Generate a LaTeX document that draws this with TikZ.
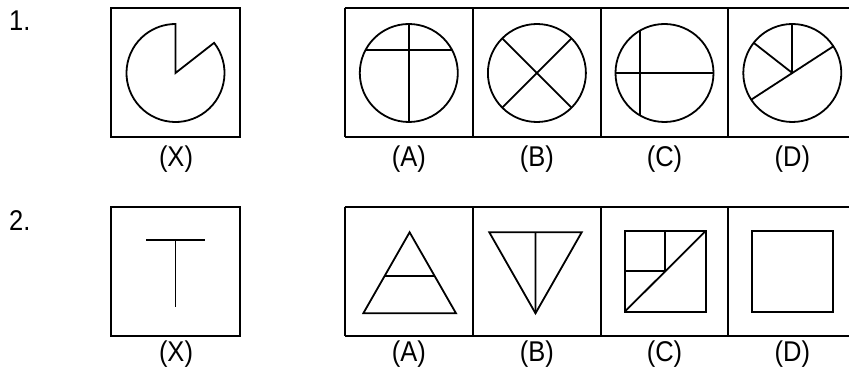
\documentclass[tikz,border=0pt]{standalone}
\usepackage{fontspec}
\usepackage{graphicx}
\setmainfont{Liberation Sans}
\usetikzlibrary{calc}
\newcommand{\tallt}[1]{\scalebox{1}[1.12]{#1}}
\begin{document}
\begin{tikzpicture}[x=1pt,y=1pt,
  fig/.style={line width=1.8pt, line join=miter},
  frame/.style={line width=2pt},
  lbl/.style={font=\fontsize{25.5}{30}\selectfont, inner sep=0pt},
  num/.style={font=\fontsize{25.5}{30}\selectfont, inner sep=0pt, anchor=west}]
\useasboundingbox (0,0) rectangle (849,-371);
\clip (0,0) rectangle (849,-371);
\fill[white] (0,0) rectangle (849,-371);

% ---------- Row 1 ----------
\node[num] (n1) at (9,-21) {\tallt{1.}};
\draw[frame] (111,-8.5) rectangle (240,-137);
\draw[frame] (344.7,-8.5) -- (860,-8.5);
\draw[frame] (344.7,-137) -- (860,-137);
\draw[frame] (344.7,-8.5) -- (344.7,-137);
\draw[frame] (473,-8.5) -- (473,-137);
\draw[frame] (600.7,-8.5) -- (600.7,-137);
\draw[frame] (728.3,-8.5) -- (728.3,-137);

\coordinate (cx1) at (175.5,-73);
\coordinate (ca1) at (408.8,-73);
\coordinate (cb1) at (536.9,-73);
\coordinate (cc1) at (664.5,-73);
\coordinate (cd1) at (792.3,-73);

% X: circle with sector cut out
\draw[fig] (cx1) -- ($(cx1)+(38:49pt)$) arc[start angle=38, end angle=-270, radius=49pt] -- cycle;

% A
\draw[fig] (ca1) circle[radius=49pt];
\draw[fig] ($(ca1)+(90:49pt)$) -- ($(ca1)+(-90:49pt)$);
\draw[fig] ($(ca1)+(-43.3,23)$) -- ($(ca1)+(43.3,23)$);

% B
\draw[fig] (cb1) circle[radius=49pt];
\draw[fig] ($(cb1)+(45:49pt)$) -- ($(cb1)+(225:49pt)$);
\draw[fig] ($(cb1)+(135:49pt)$) -- ($(cb1)+(315:49pt)$);

% C
\draw[fig] (cc1) circle[radius=49pt];
\draw[fig] ($(cc1)+(180:49pt)$) -- ($(cc1)+(0:49pt)$);
\draw[fig] ($(cc1)+(-24.5,42.4)$) -- ($(cc1)+(-24.5,-42.4)$);

% D
\draw[fig] (cd1) circle[radius=49pt];
\draw[fig] ($(cd1)+(213:49pt)$) -- ($(cd1)+(33:49pt)$);
\draw[fig] (cd1) -- ($(cd1)+(90:49pt)$);
\draw[fig] (cd1) -- ($(cd1)+(142:49pt)$);

\node[lbl] (lx1) at (176,-159) {\tallt{(X)}};
\node[lbl] (la1) at (408.8,-159) {\tallt{(A)}};
\node[lbl] (lb1) at (536.9,-159) {\tallt{(B)}};
\node[lbl] (lc1) at (664.5,-159) {\tallt{(C)}};
\node[lbl] (ld1) at (792.3,-159) {\tallt{(D)}};

% ---------- Row 2 ----------
\node[num] (n2) at (9,-221) {\tallt{2.}};
\draw[frame] (111,-207.3) rectangle (240,-336);
\draw[frame] (344.7,-207.3) -- (860,-207.3);
\draw[frame] (344.7,-336) -- (860,-336);
\draw[frame] (344.7,-207.3) -- (344.7,-336);
\draw[frame] (473,-207.3) -- (473,-336);
\draw[frame] (600.7,-207.3) -- (600.7,-336);
\draw[frame] (728.3,-207.3) -- (728.3,-336);

% X: T
\draw[fig] (146,-240) -- (205,-240);
\draw[fig] (175.5,-240) -- (175.5,-307);

% A: triangle with cross line
\coordinate (tA) at (409.6,-232.3);
\coordinate (lA) at (363.3,-313.3);
\coordinate (rA) at (456,-313.3);
\draw[fig] (tA) -- (lA) -- (rA) -- cycle;
\draw[fig] ($(tA)!0.543!(lA)$) -- ($(tA)!0.543!(rA)$);

% B: inverted triangle with median
\coordinate (lB) at (489.3,-232.3);
\coordinate (rB) at (581.7,-232.3);
\coordinate (bB) at (535.5,-313.3);
\draw[fig] (lB) -- (rB) -- (bB) -- cycle;
\draw[fig] ($(lB)!0.5!(rB)$) -- (bB);

% C: square with diagonal and quarter
\coordinate (c1) at (624.7,-311.7);
\coordinate (c2) at (705.7,-231);
\coordinate (cm) at ($(c1)!0.5!(c2)$);
\draw[fig] (c1) rectangle (c2);
\draw[fig] (c1) -- (c2);
\draw[fig] (cm |- c2) -- (cm);
\draw[fig] (cm -| c1) -- (cm);

% D: square
\draw[fig] (752.3,-231) rectangle (833.3,-311.7);

\node[lbl] (lx2) at (176,-354) {\tallt{(X)}};
\node[lbl] (la2) at (408.8,-354) {\tallt{(A)}};
\node[lbl] (lb2) at (536.9,-354) {\tallt{(B)}};
\node[lbl] (lc2) at (664.5,-354) {\tallt{(C)}};
\node[lbl] (ld2) at (792.3,-354) {\tallt{(D)}};
\end{tikzpicture}
\end{document}
